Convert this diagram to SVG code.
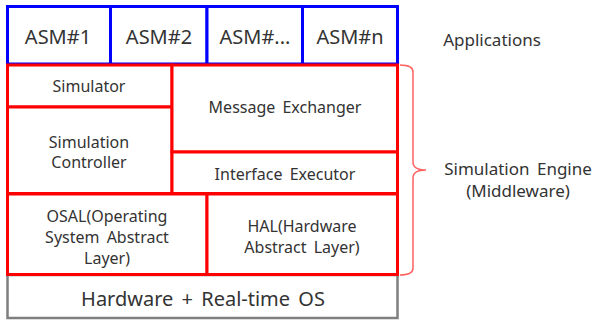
<svg xmlns="http://www.w3.org/2000/svg" width="595" height="323" viewBox="0 0 595 323">
<style>
text{font-family:"Noto Sans","Open Sans","Liberation Sans",sans-serif;fill:#333;text-anchor:middle;word-spacing:3px}
.app{fill:#fff;stroke:#0000ff;stroke-width:3}
.mid{fill:#fff;stroke:#ff0000;stroke-width:3}
.hw{fill:#fff;stroke:#7f7f7f;stroke-width:2.5}
.big{font-size:20px}
.sm{font-size:16px}
.lbl{font-size:17px}
</style>
<rect width="595" height="323" fill="#fff"/>
<g id="hardware"><rect class="hw" x="7.5" y="275" width="390" height="43"/><text class="big" x="203" y="306">Hardware + Real-time OS</text></g>
<g id="asm1"><rect class="app" x="7.5" y="6.5" width="103" height="57.5"/><text class="big" x="58" y="44">ASM#1</text></g>
<g id="asm2"><rect class="app" x="110.5" y="6.5" width="96.5" height="57.5"/><text class="big" x="159" y="44">ASM#2</text></g>
<g id="asm3"><rect class="app" x="207" y="6.5" width="95.5" height="57.5"/><text class="big" x="255" y="44">ASM#...</text></g>
<g id="asmn"><rect class="app" x="302.5" y="6.5" width="95" height="57.5"/><text class="big" x="350" y="44">ASM#n</text></g>
<g id="simulator"><rect class="mid" x="7.5" y="65" width="164.5" height="42"/><text class="sm" x="89" y="92">Simulator</text></g>
<g id="controller"><rect class="mid" x="7.5" y="107" width="164.5" height="86.5"/><text class="sm" x="89" y="148">Simulation</text><text class="sm" x="89" y="168">Controller</text></g>
<g id="exchanger"><rect class="mid" x="172" y="65" width="225.5" height="87"/><text class="sm" x="285" y="113">Message Exchanger</text></g>
<g id="executor"><rect class="mid" x="172" y="152" width="225.5" height="41.5"/><text class="sm" x="285" y="180">Interface Executor</text></g>
<g id="osal"><rect class="mid" x="7.5" y="194" width="199.5" height="80.5"/><text class="sm" x="107" y="222">OSAL(Operating</text><text class="sm" x="107" y="243">System Abstract</text><text class="sm" x="107" y="264">Layer)</text></g>
<g id="hal"><rect class="mid" x="207" y="194" width="190.5" height="80.5"/><text class="sm" x="302" y="232">HAL(Hardware</text><text class="sm" x="302" y="253">Abstract Layer)</text></g>
<g id="brace"><path d="M400,65 Q413,65 413,72 L413,162 Q413,170 426,170 Q413,170 413,178 L413,268 Q413,275 400,275" fill="none" stroke="#ff6060" stroke-width="1.5"/></g>
<g id="labels"><text class="lbl" x="492" y="46">Applications</text><text class="lbl" x="518" y="175">Simulation Engine</text><text class="lbl" x="518" y="197">(Middleware)</text></g>
</svg>
